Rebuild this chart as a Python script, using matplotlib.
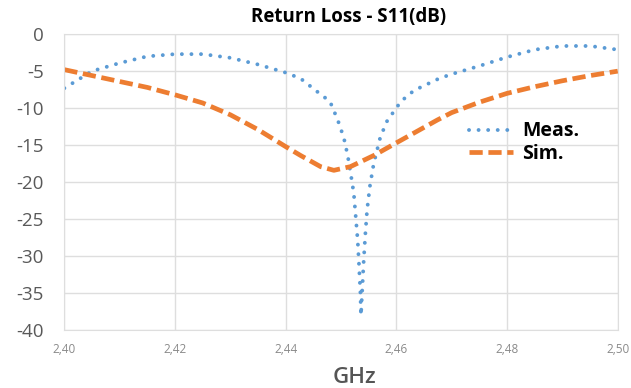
import matplotlib
matplotlib.use("Agg")
import matplotlib.pyplot as plt

# ── Data ──────────────────────────────────────────────────────────
meas_f = [2.400, 2.405, 2.410, 2.415, 2.420, 2.425, 2.430, 2.435, 2.440,
          2.4427, 2.4454, 2.4480, 2.4494, 2.4505, 2.4512, 2.4518, 2.4523,
          2.4526, 2.4530, 2.4532, 2.4535, 2.4536, 2.4538, 2.4541, 2.4544,
          2.4547, 2.4552, 2.4559, 2.4571, 2.4584, 2.4597, 2.4608, 2.4632,
          2.4677, 2.470, 2.475, 2.480, 2.485, 2.490, 2.495, 2.500]
meas_db = [-7.3, -5.0, -3.9, -3.0, -2.7, -2.7, -3.2, -4.1, -5.2,
           -6.0, -7.6, -9.1, -11.6, -14.0, -16.4, -19.1, -21.5,
           -24.2, -27.8, -30.5, -35.0, -38.0, -35.0, -30.5, -26.9,
           -23.8, -20.6, -17.5, -13.9, -11.6, -10.3, -9.1, -7.6,
           -6.0, -5.4, -4.3, -3.1, -2.1, -1.6, -1.6, -2.1]

sim_f = [2.400, 2.405, 2.410, 2.415, 2.420, 2.425, 2.430, 2.435, 2.440,
         2.4427, 2.4463, 2.4487, 2.4517, 2.4559, 2.4602, 2.4674, 2.470,
         2.475, 2.480, 2.485, 2.490, 2.495, 2.500]
sim_db = [-4.8, -5.6, -6.4, -7.2, -8.2, -9.3, -10.9, -12.9, -15.2,
          -16.4, -17.9, -18.4, -17.9, -16.4, -14.6, -11.6, -10.6,
          -9.2, -8.0, -7.1, -6.3, -5.6, -5.0]

x_ticks = [2.40, 2.42, 2.44, 2.46, 2.48, 2.50]
y_ticks = [0, -5, -10, -15, -20, -25, -30, -35, -40]

plt.rcParams["font.family"] = ["Open Sans", "DejaVu Sans"]

fig = plt.figure(figsize=(6.31, 3.88), dpi=100)
ax = fig.add_axes([0.102, 0.149, 0.877, 0.763])

ax.plot(meas_f, meas_db, color="#5b9bd5", linestyle=(0, (0.01, 2.45)),
        linewidth=2.8, dash_capstyle="round", label="Meas.")
ax.plot(sim_f, sim_db, color="#ed7d31", linestyle=(0, (2.8, 1.2)),
        linewidth=3.4, label="Sim.")

ax.set_xlim(2.40, 2.50)
ax.set_ylim(-40, 0)
ax.set_xticks(x_ticks)
ax.set_xticklabels([f"{t:.2f}".replace(".", ",") for t in x_ticks],
                   fontsize=8.5, color="#8a8a8a")
ax.set_yticks(y_ticks)
ax.set_yticklabels([str(t) for t in y_ticks], fontsize=13.5, color="#595959")
ax.tick_params(axis="y", length=0, pad=15)
ax.tick_params(axis="x", length=0, pad=9)
ax.grid(True, color="#dedede", linewidth=1)
for s in ax.spines.values():
    s.set_color("#dedede")

ax.set_title("Return Loss - S11(dB)", fontsize=13.5, fontweight="bold",
             x=0.514, y=1.0574, va="center", pad=0)
ax.set_xlabel("GHz", fontsize=16, color="#555555", fontweight="semibold",
              va="center")
ax.xaxis.set_label_coords(0.524, -0.159)

ax.legend(loc="center left", bbox_to_anchor=(0.7306, 0.633),
          bbox_transform=ax.transAxes, frameon=False, borderpad=0,
          borderaxespad=0, handlelength=2.3, handletextpad=0.45,
          labelspacing=0.15, prop={"weight": "bold", "size": 14})

fig.savefig("out.png", dpi=100)
